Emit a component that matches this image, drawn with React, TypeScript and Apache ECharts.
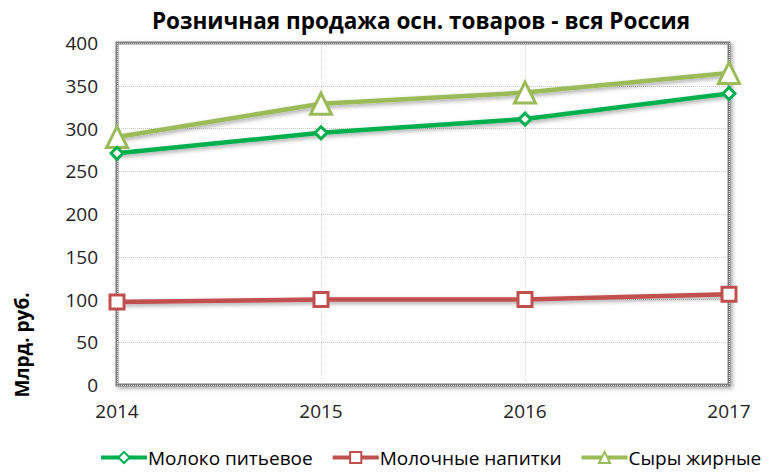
import React, { useEffect, useRef } from "react";
import * as echarts from "echarts";

const years = ["2014", "2015", "2016", "2017"];
const milk = [271, 295, 311, 341];
const drinks = [97, 100, 100, 106];
const cheese = [290, 329, 342, 365];
const seriesNames = ["Молоко питьевое", "Молочные напитки", "Сыры жирные"];
const titleText = "Розничная продажа осн. товаров - вся Россия";
const yName = "Млрд. руб.";

const FONT = "Open Sans";

export default function App() {
  const ref = useRef<HTMLDivElement>(null);
  useEffect(() => {
    const chart = echarts.init(ref.current!, null, { renderer: "svg" });
    const shadow = { shadowColor: "rgba(0,0,0,0.35)", shadowBlur: 4, shadowOffsetX: 2, shadowOffsetY: 2 };
    chart.setOption({
      animation: false,
      title: {
        text: titleText,
        left: 416,
        textAlign: "center",
        top: 4,
        textStyle: { fontFamily: FONT, fontSize: 22.5, fontWeight: "bold", color: "#000" },
      },
      grid: {
        left: 117,
        right: 40,
        top: 43,
        bottom: 87,
        show: true,
        borderColor: "#7f7f7f",
        borderWidth: 3,
        backgroundColor: "#fff",
        ...shadow,
      },
      legend: {
        bottom: 0,
        left: 94,
        itemGap: 18,
        itemWidth: 46,
        itemHeight: 14,
        lineStyle: { width: 4 },
        textStyle: { fontFamily: FONT, fontSize: 19, color: "#000", padding: [0, 0, 0, -4] },
        data: seriesNames,
      },
      graphic: [
        {
          type: "text",
          x: 12,
          y: 345,
          rotation: Math.PI / 2,
          style: {
            text: yName,
            fontFamily: FONT,
            fontSize: 19,
            fontWeight: "bold",
            fill: "#000",
            align: "center",
            verticalAlign: "top",
          },
        },
      ],
      xAxis: {
        type: "category",
        data: years,
        boundaryGap: false,
        axisLine: { show: false },
        axisTick: { show: false },
        axisLabel: { fontFamily: FONT, fontSize: 19, color: "#222", margin: 16 },
        splitLine: { show: true, lineStyle: { color: "#d9d9d9", type: "dotted", width: 1 } },
      },
      yAxis: {
        type: "value",
        min: 0,
        max: 400,
        interval: 50,
        axisLine: { show: false },
        axisTick: { show: false },
        axisLabel: { fontFamily: FONT, fontSize: 19, color: "#222", margin: 19 },
        splitLine: { show: true, lineStyle: { color: "#c8c8c8", type: "dotted", width: 1 } },
      },
      series: [
        {
          name: seriesNames[0],
          type: "line",
          data: milk,
          symbol: "diamond",
          symbolSize: 12,
          color: "#00b050",
          lineStyle: { width: 4.5, color: "#00b050", ...shadow },
          itemStyle: { color: "#fff", borderColor: "#00b050", borderWidth: 3 },
          z: 3,
        },
        {
          name: seriesNames[1],
          type: "line",
          data: drinks,
          symbol: "rect",
          symbolSize: 14,
          color: "#c0504d",
          lineStyle: { width: 4.5, color: "#c0504d", ...shadow },
          itemStyle: { color: "#fff", borderColor: "#c0504d", borderWidth: 3 },
          z: 3,
        },
        {
          name: seriesNames[2],
          type: "line",
          data: cheese,
          symbol: "triangle",
          symbolSize: 21,
          color: "#9bbb59",
          lineStyle: { width: 4.5, color: "#9bbb59", ...shadow },
          itemStyle: { color: "#fff", borderColor: "#9bbb59", borderWidth: 3 },
          z: 2,
        },
      ],
    });
    return () => chart.dispose();
  }, []);
  return <div ref={ref} style={{ width: 769, height: 472, position: "absolute", left: 0, top: 0 }} />;
}
